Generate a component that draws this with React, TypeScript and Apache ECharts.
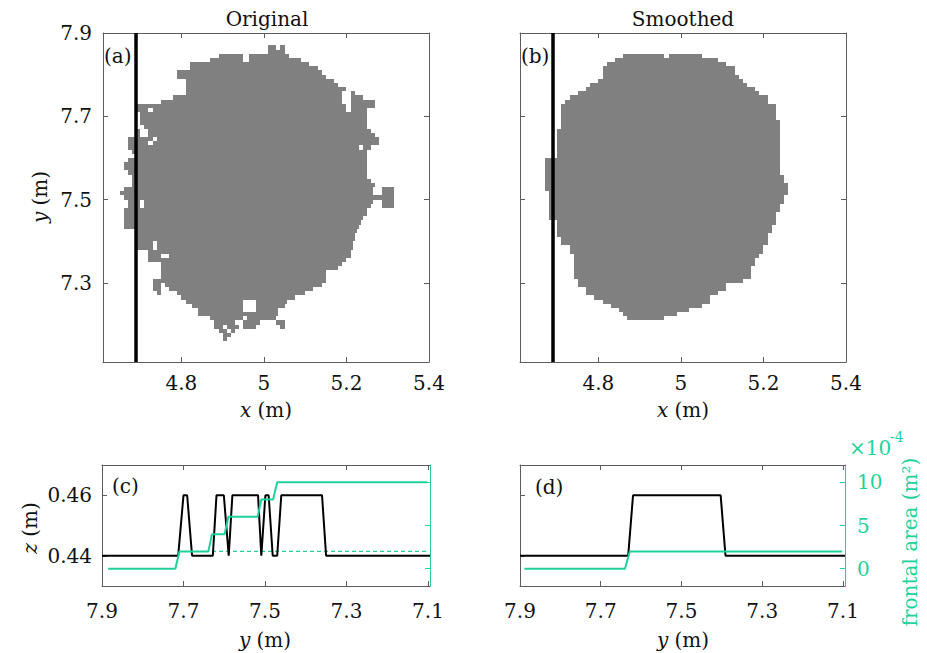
import React, { useEffect, useRef } from "react";
import * as echarts from "echarts";

// ---------- data ----------
const cellSize = 0.01; // grid cell size of the binarised images (m)
const cutX = 4.69; // position of the vertical cut line (m)

// [yTop, x0, x1] spans of grey cells, original image
const originalSpans: number[][] = [
  [7.87, 5.01, 5.03], [7.87, 5.04, 5.05],
  [7.86, 5.01, 5.05],
  [7.85, 4.89, 4.95], [7.85, 4.965, 5.06],
  [7.84, 4.87, 4.95], [7.84, 4.965, 5.09],
  [7.83, 4.82, 5.11],
  [7.82, 4.82, 5.13],
  [7.81, 4.79, 5.14],
  [7.80, 4.79, 5.15],
  [7.79, 4.81, 5.17],
  [7.78, 4.81, 5.18],
  [7.77, 4.81, 5.20],
  [7.76, 4.81, 5.19], [7.76, 5.21, 5.22],
  [7.75, 4.78, 5.19], [7.75, 5.21, 5.24],
  [7.74, 4.75, 5.19], [7.74, 5.21, 5.27],
  [7.73, 4.69, 5.20], [7.73, 5.21, 5.27],
  [7.72, 4.69, 4.72], [7.72, 4.73, 5.20], [7.72, 5.21, 5.25],
  [7.71, 4.70, 5.25],
  [7.70, 4.70, 5.25],
  [7.69, 4.70, 5.25],
  [7.68, 4.71, 5.25],
  [7.67, 4.69, 4.70], [7.67, 4.72, 5.26],
  [7.66, 4.69, 4.70], [7.66, 4.72, 5.27],
  [7.65, 4.67, 4.73], [7.65, 4.74, 5.28],
  [7.64, 4.67, 4.72], [7.64, 4.73, 5.28],
  [7.63, 4.67, 5.23], [7.63, 5.24, 5.26],
  [7.62, 4.68, 5.25],
  [7.61, 4.69, 5.25],
  [7.60, 4.67, 5.25],
  [7.59, 4.66, 5.25],
  [7.58, 4.66, 5.25],
  [7.57, 4.67, 5.25],
  [7.56, 4.68, 5.25],
  [7.55, 4.68, 5.26],
  [7.54, 4.68, 5.27],
  [7.53, 4.66, 5.265], [7.53, 5.285, 5.315],
  [7.52, 4.65, 5.265], [7.52, 5.285, 5.315],
  [7.51, 4.66, 5.315],
  [7.50, 4.67, 4.70], [7.50, 4.71, 5.265], [7.50, 5.285, 5.315],
  [7.49, 4.67, 4.70], [7.49, 4.71, 5.26], [7.49, 5.285, 5.315],
  [7.48, 4.66, 5.25],
  [7.47, 4.66, 5.25],
  [7.46, 4.66, 5.24],
  [7.45, 4.66, 5.235],
  [7.44, 4.66, 5.23],
  [7.43, 4.69, 5.225],
  [7.42, 4.69, 5.22],
  [7.41, 4.69, 5.22],
  [7.40, 4.69, 4.73], [7.40, 4.74, 5.215],
  [7.39, 4.69, 4.73], [7.39, 4.74, 5.215],
  [7.38, 4.72, 5.21],
  [7.37, 4.72, 4.75], [7.37, 4.77, 5.21],
  [7.36, 4.72, 5.20],
  [7.35, 4.75, 5.19],
  [7.34, 4.75, 5.18],
  [7.33, 4.75, 5.15],
  [7.32, 4.75, 5.15],
  [7.31, 4.73, 5.15],
  [7.30, 4.73, 4.75], [7.30, 4.76, 5.14],
  [7.29, 4.73, 4.75], [7.29, 4.77, 5.12],
  [7.28, 4.74, 4.75], [7.28, 4.79, 5.10],
  [7.27, 4.80, 5.075],
  [7.26, 4.81, 4.95], [7.26, 4.98, 5.055],
  [7.25, 4.825, 4.95], [7.25, 4.98, 5.05],
  [7.24, 4.84, 4.95], [7.24, 4.98, 5.035],
  [7.23, 4.84, 5.035],
  [7.22, 4.87, 4.95], [7.22, 4.96, 5.03],
  [7.21, 4.88, 4.93], [7.21, 4.95, 4.99], [7.21, 5.03, 5.05],
  [7.20, 4.88, 4.90], [7.20, 4.91, 4.94], [7.20, 4.95, 4.98], [7.20, 5.04, 5.05],
  [7.19, 4.89, 4.91], [7.19, 4.92, 4.93],
  [7.18, 4.90, 4.92],
  [7.17, 4.90, 4.91],
];

// [yTop, x0, x1] spans of grey cells, smoothed image
const smoothedSpans: number[][] = [
  [7.85, 4.86, 4.96], [7.85, 4.97, 5.05],
  [7.84, 4.84, 5.09],
  [7.83, 4.82, 5.11],
  [7.82, 4.81, 5.13],
  [7.81, 4.81, 5.13],
  [7.80, 4.81, 5.14],
  [7.79, 4.80, 5.15],
  [7.78, 4.78, 5.16],
  [7.77, 4.77, 5.18],
  [7.76, 4.75, 5.19],
  [7.75, 4.73, 5.21],
  [7.74, 4.72, 5.21],
  [7.73, 4.71, 5.23],
  [7.72, 4.71, 5.23],
  [7.71, 4.71, 5.23],
  [7.70, 4.71, 5.23],
  [7.69, 4.71, 5.24],
  [7.68, 4.71, 5.24],
  [7.67, 4.70, 5.24],
  [7.66, 4.70, 5.24],
  [7.65, 4.70, 5.24],
  [7.64, 4.70, 5.24],
  [7.63, 4.70, 5.24],
  [7.62, 4.70, 5.24],
  [7.61, 4.70, 5.24],
  [7.60, 4.67, 5.24],
  [7.59, 4.67, 5.24],
  [7.58, 4.67, 5.24],
  [7.57, 4.67, 5.24],
  [7.56, 4.67, 5.25],
  [7.55, 4.67, 5.25],
  [7.54, 4.67, 5.26],
  [7.53, 4.67, 5.26],
  [7.52, 4.68, 5.26],
  [7.51, 4.68, 5.25],
  [7.50, 4.68, 5.25],
  [7.49, 4.68, 5.24],
  [7.48, 4.68, 5.24],
  [7.47, 4.68, 5.23],
  [7.46, 4.68, 5.23],
  [7.45, 4.70, 5.23],
  [7.44, 4.70, 5.22],
  [7.43, 4.70, 5.22],
  [7.42, 4.70, 5.21],
  [7.41, 4.71, 5.21],
  [7.40, 4.71, 5.21],
  [7.39, 4.73, 5.20],
  [7.38, 4.73, 5.20],
  [7.37, 4.74, 5.19],
  [7.36, 4.74, 5.18],
  [7.35, 4.74, 5.18],
  [7.34, 4.74, 5.17],
  [7.33, 4.74, 5.17],
  [7.32, 4.74, 5.17],
  [7.31, 4.75, 5.15],
  [7.30, 4.75, 5.11],
  [7.29, 4.77, 5.11],
  [7.28, 4.77, 5.09],
  [7.27, 4.79, 5.07],
  [7.26, 4.81, 5.07],
  [7.25, 4.83, 5.05],
  [7.24, 4.85, 5.02],
  [7.23, 4.86, 4.99],
  [7.22, 4.87, 4.96],
];

// profile along the cut: [y (m), z (m)]
const originalHeight: number[][] = [
  [7.9, 0.44], [7.713, 0.44], [7.7, 0.46], [7.691, 0.46], [7.679, 0.44],
  [7.628, 0.44], [7.619, 0.46], [7.601, 0.46], [7.589, 0.44], [7.58, 0.46],
  [7.517, 0.46], [7.509, 0.44], [7.499, 0.46], [7.491, 0.46], [7.481, 0.44],
  [7.47, 0.44], [7.46, 0.46], [7.36, 0.46], [7.35, 0.44], [7.095, 0.44],
];
// cumulative frontal area: [y (m), area (x1e-4 m^2)]
const originalArea: number[][] = [
  [7.885, 0], [7.72, 0], [7.71, 2], [7.639, 2], [7.63, 4], [7.599, 4],
  [7.59, 6], [7.518, 6], [7.509, 8], [7.48, 8], [7.47, 10], [7.102, 10],
];
const smoothedAreaRef: number[][] = [[7.63, 2], [7.102, 2]];

const smoothedHeight: number[][] = [
  [7.9, 0.44], [7.632, 0.44], [7.62, 0.46], [7.403, 0.46], [7.391, 0.44], [7.095, 0.44],
];
const smoothedArea: number[][] = [[7.889, 0], [7.64, 0], [7.628, 2], [7.102, 2]];

// axis ticks
const planXTicks = [4.8, 5, 5.2, 5.4];
const planYTicks = [7.3, 7.5, 7.7, 7.9];
const profXTicks = [7.9, 7.7, 7.5, 7.3, 7.1];
const zTicks = [0.44, 0.46];
const areaTicks = [0, 5, 10];

// ---------- style ----------
const FONT = "DejaVu Serif";
const GREEN = "#1fd19b";
const BOX = "#5c5c5c";
const INK = "#111111";
const TICK_FS = 20;
const LABEL_FS = 20;

function axisBase(show: boolean, ticks: number[], color: string, labelColor: string, margin: number) {
  return {
    splitLine: { show: false },
    axisLine: { show: true, onZero: false, lineStyle: { color, width: 1 } },
    axisTick: { show: true, inside: true, length: 5, customValues: ticks, lineStyle: { color, width: 1 } },
    axisLabel: {
      show,
      customValues: ticks,
      margin,
      color: labelColor,
      fontFamily: FONT,
      fontSize: TICK_FS,
    },
  };
}

function blobSeries(data: number[][], xi: number, yi: number) {
  return {
    type: "custom",
    xAxisIndex: xi,
    yAxisIndex: yi,
    clip: true,
    dimensions: ["yTop", "x0", "x1"],
    encode: { x: [1, 2], y: 0 },
    data,
    renderItem: (params: any, api: any) => {
      const yTop = api.value(0);
      const x0 = api.value(1);
      const x1 = api.value(2);
      const p0 = api.coord([x0, yTop]);
      const p1 = api.coord([x1, yTop - cellSize]);
      const left = Math.round(p0[0]);
      const right = Math.round(p1[0]);
      const top = Math.round(p0[1]);
      const bottom = Math.round(p1[1]);
      return {
        type: "rect",
        shape: { x: left, y: top, width: right - left, height: bottom - top },
        style: { fill: "#808080", opacity: 1 },
      };
    },
  };
}

function lineSeries(data: number[][], xi: number, yi: number, color: string, width: number, dashed = false) {
  return {
    type: "line",
    xAxisIndex: xi,
    yAxisIndex: yi,
    data,
    symbol: "none",
    showSymbol: false,
    lineStyle: { color, width, type: dashed ? [4, 3] : "solid" },
    z: dashed ? 2 : 3,
  };
}

function txt(text: string, x: number, y: number, opts: any = {}) {
  const fs = opts.fontSize || LABEL_FS;
  const fill = opts.fill || INK;
  return {
    type: "text",
    x,
    y,
    rotation: opts.rotation || 0,
    style: {
      text,
      fill,
      fontFamily: FONT,
      fontSize: fs,
      textAlign: opts.align || "center",
      textVerticalAlign: "middle",
      rich: {
        i: { fontStyle: "italic", fontFamily: FONT, fontSize: fs, fill },
        n: { fontFamily: FONT, fontSize: fs, fill },
      },
    },
  };
}

export default function App() {
  const ref = useRef<HTMLDivElement>(null);
  useEffect(() => {
    if (!ref.current) return;
    const chart = echarts.init(ref.current, null, { renderer: "svg" });
    const planX = { type: "value", min: 4.61, max: 5.4 };
    const planY = { type: "value", min: 7.11, max: 7.9 };
    const profX = { type: "value", min: 7.095, max: 7.9, inverse: true };
    const zY = { type: "value", min: 0.43, max: 0.47 };
    const aY = { type: "value", min: -2, max: 12 };

    const option: any = {
      animation: false,
      backgroundColor: "#ffffff",
      textStyle: { fontFamily: FONT },
      grid: [
        { left: 103, top: 33, width: 326, height: 329 },
        { left: 520, top: 33, width: 326, height: 329 },
        { left: 102, top: 465, width: 328, height: 121 },
        { left: 520, top: 465, width: 325, height: 121 },
      ],
      xAxis: [
        { ...planX, gridIndex: 0, position: "bottom", ...axisBase(true, planXTicks, BOX, INK, 11) },
        { ...planX, gridIndex: 0, position: "top", ...axisBase(false, planXTicks, BOX, INK, 11) },
        { ...planX, gridIndex: 1, position: "bottom", ...axisBase(true, planXTicks, BOX, INK, 11) },
        { ...planX, gridIndex: 1, position: "top", ...axisBase(false, planXTicks, BOX, INK, 11) },
        { ...profX, gridIndex: 2, position: "bottom", ...axisBase(true, profXTicks, BOX, INK, 15) },
        { ...profX, gridIndex: 2, position: "top", ...axisBase(false, profXTicks, BOX, INK, 15) },
        { ...profX, gridIndex: 3, position: "bottom", ...axisBase(true, profXTicks, BOX, INK, 15) },
        { ...profX, gridIndex: 3, position: "top", ...axisBase(false, profXTicks, BOX, INK, 15) },
      ],
      yAxis: [
        { ...planY, gridIndex: 0, position: "left", ...axisBase(true, planYTicks, BOX, INK, 11) },
        { ...planY, gridIndex: 0, position: "right", ...axisBase(false, planYTicks, BOX, INK, 11) },
        { ...planY, gridIndex: 1, position: "left", ...axisBase(false, planYTicks, BOX, INK, 11) },
        { ...planY, gridIndex: 1, position: "right", ...axisBase(false, planYTicks, BOX, INK, 11) },
        { ...zY, gridIndex: 2, position: "left", ...axisBase(true, zTicks, BOX, INK, 10) },
        { ...aY, gridIndex: 2, position: "right", ...axisBase(false, areaTicks, GREEN, GREEN, 12) },
        { ...zY, gridIndex: 3, position: "left", ...axisBase(false, zTicks, BOX, INK, 10) },
        { ...aY, gridIndex: 3, position: "right", ...axisBase(true, areaTicks, GREEN, GREEN, 12) },
      ],
      series: [
        blobSeries(originalSpans, 0, 0),
        lineSeries([[cutX, 7.11], [cutX, 7.9]], 0, 0, "#000000", 3.5),
        blobSeries(smoothedSpans, 2, 2),
        lineSeries([[cutX, 7.11], [cutX, 7.9]], 2, 2, "#000000", 3.5),
        lineSeries(smoothedAreaRef, 4, 5, GREEN, 1.2, true),
        lineSeries(originalHeight, 4, 4, "#000000", 2),
        lineSeries(originalArea, 4, 5, GREEN, 2),
        lineSeries(smoothedHeight, 6, 6, "#000000", 2),
        lineSeries(smoothedArea, 6, 7, GREEN, 2),
      ],
      graphic: [
        txt("Original", 267, 19),
        txt("Smoothed", 683, 19),
        txt("{i|x}{n| (m)}", 266, 410),
        txt("{i|x}{n| (m)}", 683, 410),
        txt("{i|y}{n| (m)}", 40, 197, { rotation: Math.PI / 2 }),
        txt("(a)", 104, 56, { align: "left" }),
        txt("(b)", 521, 56, { align: "left" }),
        txt("(c)", 112, 486, { align: "left" }),
        txt("(d)", 535, 487, { align: "left" }),
        txt("{i|z}{n| (m)}", 30, 528, { rotation: Math.PI / 2 }),
        txt("{i|y}{n| (m)}", 265, 640),
        txt("{i|y}{n| (m)}", 683, 640),
        txt("×10", 849, 448, { align: "left", fill: GREEN }),
        txt("-4", 890, 437, { align: "left", fill: GREEN, fontSize: 14 }),
        txt("frontal area (m²)", 910, 542, { rotation: Math.PI / 2, fill: GREEN }),
      ],
    };
    chart.setOption(option);
    return () => chart.dispose();
  }, []);
  return (
    <div
      ref={ref}
      style={{ position: "absolute", left: 0, top: 0, width: 927, height: 653, background: "#fff" }}
    />
  );
}
